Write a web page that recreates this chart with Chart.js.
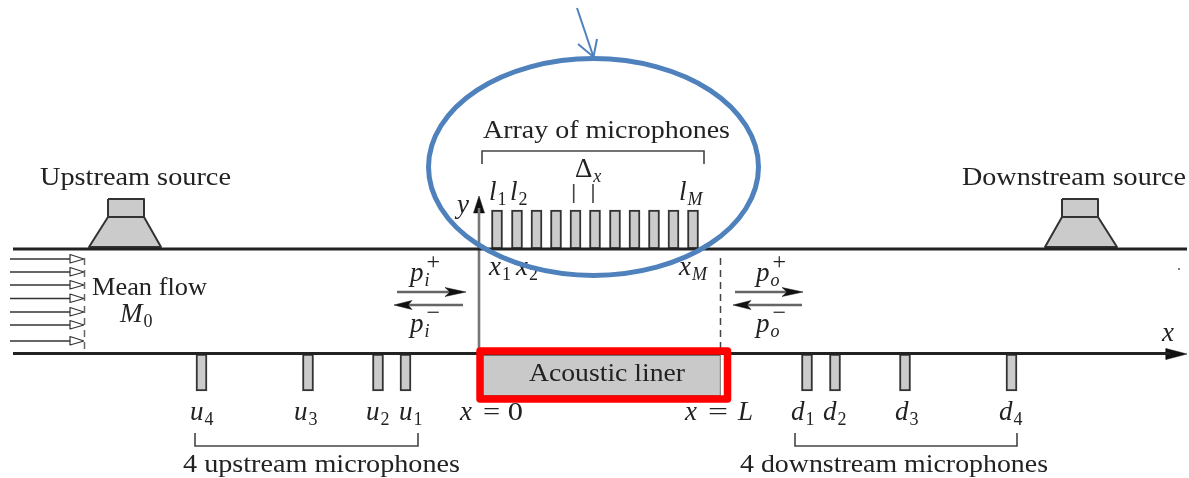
<!DOCTYPE html>
<html>
<head>
<meta charset="utf-8">
<title>Acoustic liner test rig</title>
<style>
  html, body { margin: 0; padding: 0; background: #fff; }
  canvas { display: block; }
</style>
<script src="https://cdn.jsdelivr.net/npm/chart.js@4/dist/chart.umd.min.js"></script>
</head>
<body>
<canvas id="rig" width="1189" height="478"></canvas>
<script>
// Microphone positions (along the duct) and their extents
const arrayMics = [497, 517, 536.5, 556, 575.5, 595, 615, 634.5, 654, 673.5, 693];
const arrayMicSpan = [210, 249];
const upstreamMics = [201.5, 308, 378, 405.5];
const downstreamMics = [807, 835, 905, 1011.5];
const wallMicSpan = [354, 391];

// Duct geometry
const topWall = [[13, 249], [1187, 249]];
const bottomWall = [[13, 353.5], [1170, 353.5]];
const flowLevels = [259, 272, 285, 298.5, 312, 325, 341];
const upstreamBody = [[108, 199], [144, 199], [144, 217], [108, 217], [108, 199]];
const upstreamHorn = [[108, 217], [144, 217], [161, 247], [89, 247], [108, 217]];
const downstreamBody = [[1062, 199], [1098, 199], [1098, 217], [1062, 217], [1062, 199]];
const downstreamHorn = [[1062, 217], [1098, 217], [1117, 247], [1045, 247], [1062, 217]];

// Brackets and small ticks
const upstreamBracket = [[195, 433], [195, 446], [418, 446], [418, 433]];
const downstreamBracket = [[795, 433], [795, 446], [1017, 446], [1017, 433]];
const arrayBracket = [[482, 164], [482, 151], [704, 151], [704, 164]];
const deltaTickA = [[573.7, 184], [573.7, 203]];
const deltaTickB = [[593, 184], [593, 203]];

// Axes of the sketch
const yAxisLine = [[479, 353], [479, 208]];
const yAxisHead = [[479, 196], [484.5, 213], [473.5, 213], [479, 196]];
const xAxisHead = [[1187, 354], [1166, 348.5], [1166, 359.5], [1187, 354]];
const inletDash = [[84.5, 258], [84.5, 353]];
const outletDash = [[720.5, 258], [720.5, 353]];

// Pressure wave arrows
const inRightLine = [[397, 292], [450, 292]];
const inRightHead = [[466, 292], [445, 287.5], [450, 292], [445, 296.5], [466, 292]];
const inLeftLine = [[463, 305], [408, 305]];
const inLeftHead = [[394, 305], [412, 300.5], [408, 305], [412, 309.5], [394, 305]];
const outRightLine = [[735, 292], [787, 292]];
const outRightHead = [[803, 292], [782, 287.5], [787, 292], [782, 296.5], [803, 292]];
const outLeftLine = [[802, 305], [747, 305]];
const outLeftHead = [[733, 305], [751, 300.5], [747, 305], [751, 309.5], [733, 305]];

// Liner and the annotations added on top
const linerCentre = 601.5;
const linerSpan = [355, 396];
const redBox = [[480, 351], [727.5, 351], [727.5, 399], [480, 399], [480, 351]];
const blueArrowShaft = [[577, 8], [593.5, 57]];
const blueArrowHead = [[578, 44], [593.5, 57], [597, 39]];
const blueOutline = [
  [745.9, 125.5], [758.5, 167], [745.9, 208.5], [710.2, 243.7], [656.6, 267.2], [593.5, 275.5],
  [530.4, 267.2], [476.8, 243.7], [441.1, 208.5], [428.5, 167], [441.1, 125.5], [476.8, 90.3],
  [530.4, 66.8], [593.5, 58.5], [656.6, 66.8], [710.2, 90.3], [745.9, 125.5], [758.5, 167],
  [745.9, 208.5]
];
const strayDot = [[1179, 269]];

// Plain text: label, left, baseline, width
const textLabels = ["Upstream source", "Downstream source", "Array of microphones", "Mean flow",
  "Acoustic liner", "4 upstream microphones", "4 downstream microphones", "= 0", "="];
const textX = [40, 962, 483, 92, 529, 183, 740, 483, 708];
const textY = [185, 185, 138, 295, 381, 472, 472, 420, 420];
const textW = [191, 224, 247, 115, 156, 277, 308, 40, 20];

// Math text: base, subscript, superscript, left, baseline
const mathBase = ["u", "u", "u", "u", "d", "d", "d", "d", "x", "y", "l", "l", "l", "x", "x", "x",
  "Δ", "M", "p", "p", "p", "p", "x", "x", "L"];
const mathSub = ["4", "3", "2", "1", "1", "2", "3", "4", "", "", "1", "2", "M", "1", "2", "M",
  "x", "0", "i", "i", "o", "o", "", "", ""];
const mathSup = ["", "", "", "", "", "", "", "", "", "", "", "", "", "", "", "",
  "", "", "+", "−", "+", "−", "", "", ""];
const mathX = [190, 294, 366, 399, 791, 823, 895, 999, 1162, 457, 489, 510, 679, 489, 516, 679,
  575, 120, 410, 410, 756, 756, 460, 685, 738];
const mathY = [420, 420, 420, 420, 420, 420, 420, 420, 341, 213, 200, 200, 200, 275, 275, 275,
  177, 322, 281, 332, 281, 332, 420, 420, 420];

const INK = "#222";
const SERIF = '"Liberation Serif", serif';

function pts(list) {
  return list.map((p) => ({ x: p[0], y: p[1] }));
}

function stroke(list, color, width, extra) {
  return Object.assign({
    type: "line", data: pts(list), borderColor: color, borderWidth: width,
    pointRadius: 0, fill: false
  }, extra || {});
}

function shape(list, fillColor, edge, width) {
  return stroke(list, edge, width, {
    fill: "shape", backgroundColor: fillColor, borderJoinStyle: "round"
  });
}

function micBars(centres, span) {
  return {
    type: "bar",
    data: centres.map((c) => ({ x: c, y: span })),
    backgroundColor: "#cbcbcb", borderColor: "#333", borderWidth: 2,
    borderSkipped: false, barThickness: 11, grouped: false
  };
}

// listed in paint order, first is at the bottom
const layers = [
  {
    type: "bar", data: [{ x: linerCentre, y: linerSpan }],
    backgroundColor: "#c9c9c9", borderColor: "#555", borderWidth: 1,
    borderSkipped: false, barThickness: 238, grouped: false
  },
  micBars(arrayMics, arrayMicSpan),
  micBars(upstreamMics, wallMicSpan),
  micBars(downstreamMics, wallMicSpan),
  shape(upstreamBody, "#cbcbcb", "#333", 2),
  shape(upstreamHorn, "#cbcbcb", "#333", 2),
  shape(downstreamBody, "#cbcbcb", "#333", 2),
  shape(downstreamHorn, "#cbcbcb", "#333", 2),
  stroke(inletDash, "#666", 1.5, { borderDash: [7, 5] }),
  stroke(outletDash, "#444", 1.5, { borderDash: [7, 5] })
];

flowLevels.forEach((y) => {
  layers.push(stroke([[10, y], [70, y]], "#333", 1.5));
  layers.push(shape([[84, y], [70, y - 4.5], [70, y + 4], [84, y]], "#fff", "#333", 1.2));
});

[upstreamBracket, downstreamBracket, arrayBracket, deltaTickA, deltaTickB].forEach((b) => {
  layers.push(stroke(b, "#444", 1.6));
});

[inRightLine, inLeftLine, outRightLine, outLeftLine].forEach((l) => {
  layers.push(stroke(l, "#666", 2.4));
});

[inRightHead, inLeftHead, outRightHead, outLeftHead, yAxisHead, xAxisHead].forEach((h) => {
  layers.push(shape(h, "#111", "#111", 0.5));
});

layers.push(stroke(yAxisLine, "#777", 2.6));
layers.push(stroke(topWall, "#222", 2.8));
layers.push(stroke(bottomWall, "#222", 2.8));
layers.push(stroke(strayDot, "#555", 0, { pointRadius: 1, pointBackgroundColor: "#555" }));

// Text goes under these three
const redBoxLayer = stroke(redBox, "#ff0000", 7.5, { borderJoinStyle: "round", borderCapStyle: "round", textBelow: true });
layers.push(redBoxLayer);
layers.push(stroke(blueArrowShaft, "#4f81bd", 2));
layers.push(stroke(blueArrowHead, "#4f81bd", 2));

const lastOutlineSeg = blueOutline.length - 2;
layers.push(stroke(blueOutline, "#4f81bd", 5, {
  tension: 0.343,
  segment: {
    // first and last stretch only exist to make the curve close smoothly
    borderColor: (ctx) => (ctx.p0DataIndex === 0 || ctx.p0DataIndex === lastOutlineSeg ? "transparent" : undefined)
  }
}));

layers.forEach((d, i) => { d.order = -i; });

function drawPlain(ctx, text, x, y, w) {
  ctx.save();
  ctx.font = "26px " + SERIF;
  const natural = ctx.measureText(text).width;
  ctx.translate(x, y);
  ctx.scale(w / natural, 1);
  ctx.fillText(text, 0, 0);
  ctx.restore();
}

function drawMath(ctx, base, sub, sup, x, y) {
  ctx.font = (base === "Δ" ? "" : "italic ") + "27px " + SERIF;
  ctx.fillText(base, x, y);
  const adv = ctx.measureText(base).width + 1;
  ctx.font = (/[0-9]/.test(sub) ? "" : "italic ") + "18px " + SERIF;
  if (sub) ctx.fillText(sub, x + adv, y + 5);
  if (sup) {
    ctx.font = "24px " + SERIF;
    ctx.fillText(sup, x + adv + 2, y - 12);
  }
}

const labelPlugin = {
  id: "labels",
  beforeDatasetDraw(chart, args) {
    if (chart.data.datasets[args.index].textBelow !== true) return;
    const ctx = chart.ctx;
    const sx = chart.scales.x;
    const sy = chart.scales.y;
    ctx.save();
    ctx.fillStyle = INK;
    ctx.textAlign = "left";
    ctx.textBaseline = "alphabetic";
    textLabels.forEach((t, i) => {
      drawPlain(ctx, t, sx.getPixelForValue(textX[i]), sy.getPixelForValue(textY[i]), textW[i]);
    });
    mathBase.forEach((b, i) => {
      drawMath(ctx, b, mathSub[i], mathSup[i], sx.getPixelForValue(mathX[i]), sy.getPixelForValue(mathY[i]));
    });
    ctx.restore();
  }
};

new Chart(document.getElementById("rig"), {
  type: "line",
  data: { datasets: layers },
  plugins: [labelPlugin],
  options: {
    responsive: false,
    animation: false,
    events: [],
    layout: { padding: 0, autoPadding: false },
    plugins: { legend: { display: false }, tooltip: { enabled: false }, title: { display: false } },
    scales: {
      x: { type: "linear", min: 0, max: 1189, offset: false, display: false },
      y: { type: "linear", min: 0, max: 478, reverse: true, display: false }
    }
  }
});
</script>
</body>
</html>
